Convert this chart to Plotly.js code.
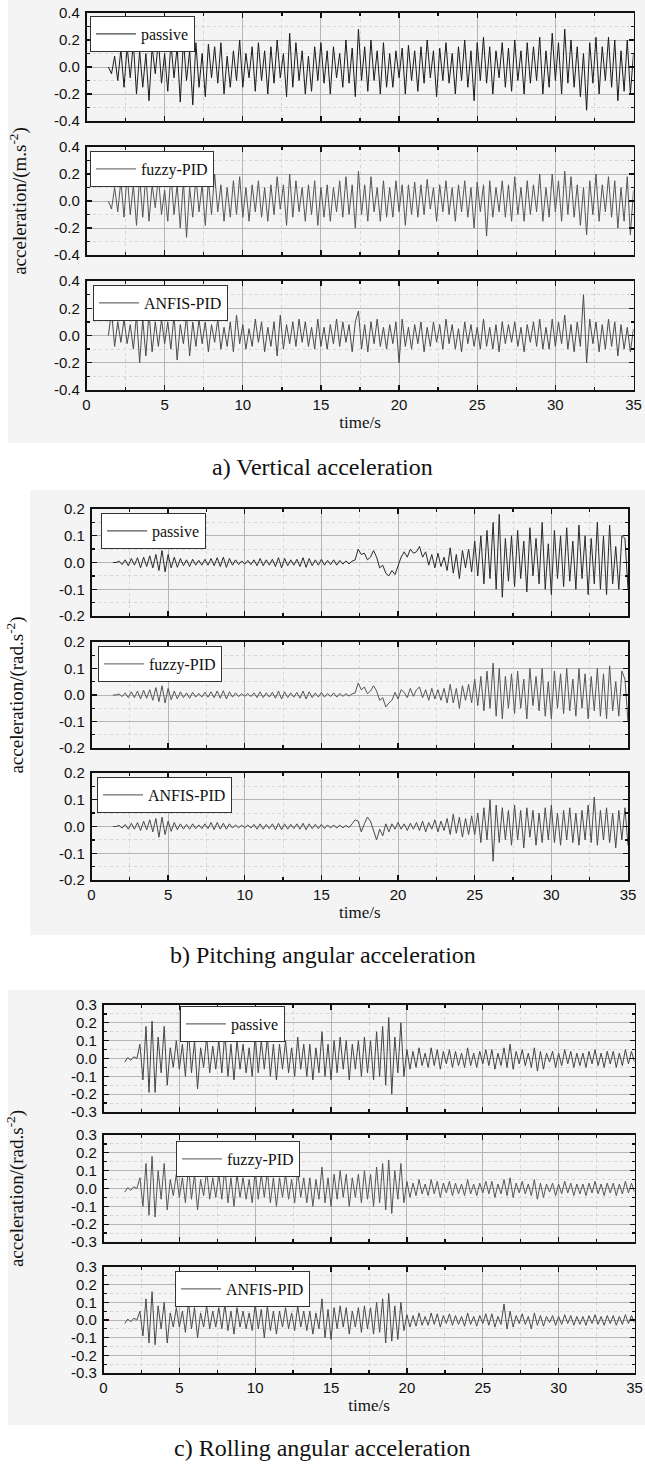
<!DOCTYPE html>
<html>
<head>
<meta charset="utf-8">
<script src="https://cdn.plot.ly/plotly-3.0.1.min.js"></script>
<style>html,body{margin:0;padding:0;background:#fff}#chart{width:645px;height:1465px}</style>
</head>
<body>
<div id="chart"></div>
<script>
// ---------- data ----------
const time = [1.4,1.6,1.8,2.0,2.2,2.4,2.6,2.8,3.0,3.2,
3.4,3.6,3.8,4.0,4.2,4.4,4.6,4.8,5.0,5.2,
5.4,5.6,5.8,6.0,6.2,6.4,6.6,6.8,7.0,7.2,
7.4,7.6,7.8,8.0,8.2,8.4,8.6,8.8,9.0,9.2,
9.4,9.6,9.8,10.0,10.2,10.4,10.6,10.8,11.0,11.2,
11.4,11.6,11.8,12.0,12.2,12.4,12.6,12.8,13.0,13.2,
13.4,13.6,13.8,14.0,14.2,14.4,14.6,14.8,15.0,15.2,
15.4,15.6,15.8,16.0,16.2,16.4,16.6,16.8,17.0,17.2,
17.4,17.6,17.8,18.0,18.2,18.4,18.6,18.8,19.0,19.2,
19.4,19.6,19.8,20.0,20.2,20.4,20.6,20.8,21.0,21.2,
21.4,21.6,21.8,22.0,22.2,22.4,22.6,22.8,23.0,23.2,
23.4,23.6,23.8,24.0,24.2,24.4,24.6,24.8,25.0,25.2,
25.4,25.6,25.8,26.0,26.2,26.4,26.6,26.8,27.0,27.2,
27.4,27.6,27.8,28.0,28.2,28.4,28.6,28.8,29.0,29.2,
29.4,29.6,29.8,30.0,30.2,30.4,30.6,30.8,31.0,31.2,
31.4,31.6,31.8,32.0,32.2,32.4,32.6,32.8,33.0,33.2,
33.4,33.6,33.8,34.0,34.2,34.4,34.6,34.8,35.0];

const seriesNames = ["passive", "fuzzy-PID", "ANFIS-PID"];

// a) vertical acceleration (m/s^2)
const vertPassive = [.0,-.05,.08,-.1,.13,-.15,.15,-.08,.18,-.2,
.12,-.15,.1,-.25,.15,-.05,.2,-.12,.1,-.18,
.18,-.08,.15,-.26,.2,-.1,.12,-.28,.18,-.15,
.1,-.22,.17,-.08,.15,-.12,.18,-.2,.08,-.15,
.12,-.1,.2,-.15,.1,-.08,.15,-.18,.18,-.1,
.12,-.2,.15,-.12,.2,-.08,.1,-.22,.25,-.15,
.18,-.1,.12,-.2,.08,-.18,.15,-.1,.18,-.12,
.12,-.2,.15,-.08,.1,-.15,.2,-.12,.14,-.22,
.28,-.1,.15,-.18,.2,-.1,.12,-.2,.18,-.15,
.1,-.15,.12,-.08,.14,-.2,.16,-.1,.12,-.18,
.15,-.12,.2,-.08,.12,-.22,.14,-.1,.18,-.12,
.1,-.2,.15,-.1,.2,-.15,.12,-.25,.18,-.1,
.22,-.12,.15,-.2,.12,-.08,.18,-.15,.14,-.18,
.2,-.1,.12,-.2,.18,-.12,.15,-.1,.22,-.2,
.12,-.15,.25,-.1,.18,-.2,.28,-.12,.2,-.15,
.15,-.22,.1,-.32,.18,-.12,.22,-.2,.15,-.1,
.22,-.15,.2,-.25,.12,-.18,.2,-.2,.1];
const vertFuzzy = [.0,-.06,.1,-.08,.15,-.12,.2,-.1,.12,-.18,
.18,-.12,.2,-.15,.12,-.05,.18,-.1,.08,-.15,
.2,-.1,.12,-.2,.15,-.27,.1,-.12,.18,-.08,
.12,-.18,.15,-.1,.2,-.08,.12,-.15,.1,-.12,
.15,-.1,.18,-.12,.1,-.15,.12,-.08,.15,-.12,
.1,-.15,.12,-.1,.18,-.06,.12,-.18,.2,-.12,
.15,-.08,.1,-.15,.12,-.1,.15,-.18,.1,-.12,
.12,-.15,.1,-.08,.15,-.12,.18,-.1,.12,-.2,
.22,-.1,.12,-.15,.18,-.08,.1,-.15,.15,-.12,
.1,-.12,.15,-.08,.12,-.18,.12,-.1,.14,-.12,
.12,-.1,.16,-.06,.1,-.15,.12,-.08,.15,-.1,
.1,-.15,.12,-.08,.15,-.12,.1,-.2,.14,-.08,
.12,-.26,.15,-.12,.1,-.08,.15,-.12,.12,-.15,
.18,-.1,.1,-.15,.15,-.1,.12,-.08,.2,-.15,
.1,-.12,.2,-.08,.15,-.15,.22,-.1,.18,-.12,
.12,-.18,.1,-.25,.15,-.1,.2,-.15,.12,-.08,
.18,-.12,.15,-.2,.1,-.15,.18,-.25,.08];
const vertAnfis = [.0,.18,-.08,.1,-.05,.12,-.06,.08,-.1,.15,
-.2,.12,-.15,.17,-.12,.1,-.08,.12,-.06,.1,
-.1,.15,-.18,.08,-.06,.14,-.15,.1,-.08,.12,
-.06,.1,-.12,.08,-.05,.12,-.1,.06,-.08,.1,
-.12,.15,-.06,.08,-.1,.05,-.08,.12,-.05,.1,
-.12,.06,-.08,.1,-.15,.15,-.1,.08,-.06,.1,
-.08,.12,-.05,.1,-.08,.06,-.1,.12,-.08,.06,
-.1,.08,-.06,.12,-.08,.1,-.05,.08,-.12,.1,
.18,-.1,.08,-.12,.1,-.06,.12,-.08,.06,-.1,
.08,-.06,.1,-.2,.12,-.08,.06,-.1,.08,-.06,
.1,-.12,.06,-.08,.1,-.05,.08,-.1,.12,-.06,
.08,-.1,.05,-.12,.1,-.06,.08,-.08,.06,-.1,
.12,-.08,.06,-.1,.08,-.12,.1,-.06,.08,-.05,
.1,-.08,.06,-.12,.08,-.05,.1,-.08,.12,-.1,
.06,-.1,.12,-.08,.1,-.06,.15,-.1,.08,-.12,
.1,-.08,.3,-.2,.12,-.06,.1,-.12,.08,-.1,
.12,-.08,.1,-.15,.08,-.1,.06,-.12,.05];

// b) pitching angular acceleration (rad/s^2)
const pitchPassive = [0,0,.005,-.008,.01,-.012,.015,-.01,.018,-.02,
.02,-.015,.025,-.02,.03,-.03,.045,-.035,.03,-.02,
.02,-.018,.015,-.012,.01,-.015,.012,-.01,.008,-.01,
.012,-.01,.015,-.012,.018,-.015,.02,-.018,.015,-.01,
.01,-.008,.006,-.006,.008,-.008,.01,-.012,.015,-.012,
.01,-.01,.012,-.015,.018,-.02,.015,-.012,.01,-.01,
.012,-.015,.018,-.018,.015,-.012,.01,-.01,.012,-.01,
.008,-.008,.01,-.01,.008,-.006,.006,-.005,.005,.01,
.05,.03,.035,.01,.02,.045,.02,-.02,-.01,-.04,
-.05,-.03,-.045,-.01,.02,.04,.02,.05,.035,.04,
.06,.02,.04,-.01,.03,-.02,.035,-.015,.02,-.03,
.055,-.04,.03,-.06,.045,-.02,.05,-.035,.08,-.05,
.1,-.08,.12,-.06,.15,-.1,.18,-.13,.09,-.07,
.1,-.09,.12,-.06,.08,-.11,.13,-.05,.09,-.08,
.15,-.1,.07,-.12,.12,-.06,.1,-.09,.13,-.07,
.08,-.1,.14,-.06,.1,-.12,.09,-.08,.15,-.1,
.1,-.12,.14,-.08,.06,-.1,.1,.09,-.1];
const pitchFuzzy = [0,0,.004,-.006,.008,-.01,.012,-.01,.015,-.015,
.018,-.012,.02,-.02,.028,-.025,.035,-.03,.025,-.018,
.015,-.015,.012,-.01,.008,-.012,.01,-.008,.006,-.008,
.01,-.008,.012,-.01,.015,-.012,.016,-.015,.012,-.008,
.008,-.006,.005,-.005,.006,-.006,.008,-.01,.012,-.01,
.008,-.008,.01,-.012,.015,-.015,.012,-.01,.008,-.008,
.01,-.012,.015,-.015,.012,-.01,.008,-.008,.01,-.008,
.006,-.006,.008,-.008,.006,-.005,.005,-.004,.004,.008,
.045,.02,.03,.005,.015,.035,.015,-.02,-.01,-.045,
-.03,-.02,.01,-.015,.02,.01,-.01,.025,-.005,.02,
.03,-.01,.02,-.02,.025,-.015,.02,-.02,.025,-.03,
.04,-.03,.025,-.05,.035,-.02,.04,-.03,.06,-.04,
.07,-.06,.09,-.05,.12,-.08,.1,-.09,.07,-.05,
.08,-.07,.09,-.05,.06,-.09,.1,-.04,.07,-.06,
.1,-.08,.05,-.09,.09,-.05,.08,-.07,.1,-.06,
.06,-.08,.1,-.05,.08,-.09,.07,-.06,.1,-.08,
.08,-.09,.11,-.06,.05,-.08,.09,.06,-.1];
const pitchAnfis = [0,0,.004,-.006,.008,-.01,.012,-.01,.015,-.015,
.02,-.012,.025,-.02,.03,-.04,.035,-.03,.02,-.018,
.015,-.012,.01,-.01,.008,-.01,.01,-.008,.006,-.008,
.01,-.008,.015,-.012,.015,-.01,.012,-.01,.01,-.006,
.006,-.005,.005,-.005,.006,-.006,.008,-.01,.01,-.01,
.008,-.008,.01,-.012,.012,-.012,.01,-.01,.008,-.008,
.01,-.01,.012,-.012,.01,-.008,.008,-.008,.008,-.008,
.006,-.006,.006,-.006,.005,-.005,.004,-.004,.01,.025,
.02,-.02,.01,.035,.02,-.02,-.05,-.01,-.035,.01,
-.02,.01,-.01,.015,-.01,.01,-.015,.012,-.01,.015,
-.015,.02,-.02,.015,-.01,.025,-.02,.02,-.015,.03,
-.03,.045,-.025,.035,-.04,.03,-.03,.04,-.03,.05,
-.06,.07,-.05,.1,-.13,.08,-.06,.07,-.05,.06,
-.07,.08,-.05,.06,-.08,.07,-.04,.06,-.07,.05,
-.06,.07,-.05,.08,-.06,.05,-.07,.06,-.05,.07,
-.06,.05,-.07,.06,-.05,.08,-.06,.11,-.07,.06,
-.05,.07,-.06,.05,-.08,.06,-.05,.07,-.07];

// c) rolling angular acceleration (rad/s^2)
const rollPassive = [-.02,.005,-.01,.01,.0,.08,-.12,.18,-.19,.21,
-.19,.12,-.08,.18,-.15,.06,-.05,.1,-.06,.08,
-.1,.16,-.08,.1,-.17,.06,-.05,.12,-.08,.07,
-.06,.1,-.08,.15,-.1,.08,-.12,.1,-.06,.08,
-.08,.06,-.1,.13,-.08,.1,-.06,.12,-.1,.08,
-.12,.08,-.06,.1,-.08,.06,-.1,.12,-.06,.08,
-.1,.08,-.12,.06,-.08,.15,-.1,.08,-.12,.1,
-.08,.12,-.06,.1,-.12,.08,-.06,.1,-.1,.12,
-.08,.1,-.12,.15,-.1,.18,-.15,.23,-.2,.12,
-.08,.2,-.1,.05,-.06,.04,-.05,.06,-.04,.03,
-.05,.06,-.04,.05,-.06,.04,-.03,.05,-.05,.04,
-.04,.03,-.05,.06,-.04,.03,-.05,.04,-.03,.05,
-.04,.05,-.06,.03,-.04,.06,-.05,.08,-.06,.04,
-.03,.05,-.04,.03,-.05,.06,-.07,.04,-.06,.03,
-.02,.04,-.05,.03,-.04,.05,-.03,.04,-.05,.03,
-.04,.03,-.05,.04,-.03,.05,-.04,.03,-.05,.04,
-.03,.04,-.05,.03,-.04,.05,-.03,.04,-.02];
const rollFuzzy = [-.02,.005,-.01,.01,.0,.06,-.1,.14,-.15,.18,
-.16,.1,-.06,.14,-.12,.05,-.04,.08,-.05,.06,
-.08,.12,-.06,.08,-.12,.05,-.04,.1,-.06,.06,
-.05,.08,-.06,.12,-.08,.06,-.1,.08,-.05,.06,
-.06,.05,-.08,.1,-.06,.08,-.05,.1,-.08,.06,
-.1,.06,-.05,.08,-.06,.05,-.08,.1,-.05,.06,
-.08,.06,-.1,.05,-.06,.12,-.08,.06,-.1,.08,
-.06,.1,-.05,.08,-.1,.06,-.05,.08,-.08,.1,
-.06,.08,-.1,.12,-.08,.14,-.12,.16,-.14,.1,
-.06,.14,-.08,.04,-.05,.03,-.04,.05,-.03,.025,
-.04,.05,-.03,.04,-.05,.03,-.025,.04,-.04,.03,
-.03,.025,-.04,.05,-.03,.025,-.04,.03,-.025,.04,
-.03,.04,-.05,.025,-.03,.05,-.04,.06,-.05,.03,
-.025,.04,-.03,.025,-.04,.05,-.06,.03,-.05,.025,
-.02,.03,-.04,.025,-.03,.04,-.025,.03,-.04,.025,
-.03,.025,-.04,.03,-.025,.04,-.03,.025,-.04,.03,
-.025,.03,-.04,.025,-.03,.04,-.025,.03,-.02];
const rollAnfis = [-.02,.005,-.01,.01,.0,.05,-.09,.12,-.13,.16,
-.14,.08,-.05,.1,-.13,.04,-.04,.07,-.04,.05,
-.07,.1,-.05,.07,-.1,.04,-.04,.08,-.05,.05,
-.04,.07,-.05,.09,-.06,.05,-.08,.07,-.04,.05,
-.05,.04,-.06,.09,-.05,.06,-.1,.08,-.06,.05,
-.08,.05,-.04,.07,-.05,.04,-.06,.08,-.04,.05,
-.06,.05,-.08,.04,-.05,.12,-.1,.06,-.11,.07,
-.05,.08,-.04,.07,-.08,.05,-.04,.07,-.07,.08,
-.05,.07,-.08,.1,-.07,.12,-.13,.15,-.12,.08,
-.11,.1,-.06,.03,-.04,.025,-.035,.04,-.03,.02,
-.03,.04,-.025,.035,-.04,.025,-.02,.035,-.03,.025,
-.025,.02,-.035,.04,-.025,.02,-.035,.025,-.02,.035,
-.03,.035,-.04,.02,-.025,.09,-.05,.05,-.04,.025,
-.02,.035,-.025,.02,-.05,.04,-.03,.025,-.035,.02,
-.015,.025,-.03,.02,-.025,.03,-.02,.025,-.03,.02,
-.025,.02,-.03,.025,-.02,.03,-.025,.02,-.03,.025,
-.02,.025,-.03,.02,-.025,.03,-.02,.025,-.015];

const captions = ["a) Vertical acceleration", "b) Pitching angular acceleration", "c) Rolling angular acceleration"];
const yTitles = ["acceleration/(m.s<sup>-2</sup>)", "acceleration/(rad.s<sup>-2</sup>)", "acceleration/(rad.s<sup>-2</sup>)"];
const xTitle = "time/s";
const xTickVals = [0,5,10,15,20,25,30,35];
const yTickVals = [[-0.4,-0.2,0,0.2,0.4],[-0.2,-0.1,0,0.1,0.2],[-0.3,-0.2,-0.1,0,0.1,0.2,0.3]];
const yTickText = [["-0.4","-0.2","0.0","0.2","0.4"],["-0.2","-0.1","0.0","0.1","0.2"],["-0.3","-0.2","-0.1","0.0","0.1","0.2","0.3"]];
const yRanges = [[-0.4,0.4],[-0.2,0.2],[-0.3,0.3]];
const yMinor = [0.1, 0.05, 0.05];

const panelData = [[vertPassive, vertFuzzy, vertAnfis],[pitchPassive, pitchFuzzy, pitchAnfis],[rollPassive, rollFuzzy, rollAnfis]];

// ---------- layout geometry (pixels) ----------
const W = 645, H = 1465;
const xSpan = [[86.5,633.5],[91.5,628],[103.5,634.5]];
const rowSpan = [
  [[13,121],[147,255],[281,390]],
  [[509,616],[642,748],[773,880]],
  [[1005,1112],[1135,1242],[1267,1373]]
];
const legendPos = [
  [[90,16],[90,151],[93,285]],
  [[101,513],[98,646],[97,777]],
  [[180,1006],[176,1141],[175,1271]]
];
const captionY = [467, 955, 1448];
const titleStandoff = [22, 30, 42];
const lineColors = [["#1a1a1a","#555555","#4a4a4a"],["#2a2a2a","#555555","#4a4a4a"],["#444444","#555555","#4a4a4a"]];
const bgRegions = [[8,0,645,443],[30,490,645,935],[8,990,645,1425]];

const px = v => v / W;
const py = v => 1 - v / H;

const serif = "Liberation Serif, Times New Roman, serif";
const sans = "Liberation Sans, Arial, sans-serif";

const traces = [];
const layout = {
  width: W, height: H,
  margin: {l:0, r:0, t:0, b:0},
  paper_bgcolor: "#ffffff",
  plot_bgcolor: "rgba(0,0,0,0)",
  showlegend: true,
  annotations: [],
  shapes: []
};

bgRegions.forEach(r => {
  layout.shapes.push({type:"rect", xref:"paper", yref:"paper", x0:px(r[0]), x1:px(r[2]), y0:py(r[3]), y1:py(r[1]),
    fillcolor:"#f4f4f4", line:{width:0}, layer:"below"});
});

for (let p = 0; p < 3; p++) {
  for (let r = 0; r < 3; r++) {
    const i = p*3 + r + 1;
    const sfx = i === 1 ? "" : String(i);
    const xa = "xaxis" + sfx, ya = "yaxis" + sfx, lg = "legend" + sfx;
    traces.push({
      type: "scatter", mode: "lines",
      x: time, y: panelData[p][r],
      name: seriesNames[r],
      xaxis: "x" + sfx, yaxis: "y" + sfx,
      legend: lg,
      line: {color: lineColors[p][r], width: 1},
      hoverinfo: "skip"
    });
    const isBottom = r === 2;
    layout[xa] = {
      domain: [px(xSpan[p][0]), px(xSpan[p][1])],
      anchor: "y" + sfx,
      range: [0, 35],
      tickmode: "array", tickvals: xTickVals,
      showticklabels: isBottom,
      ticks: "inside", ticklen: 5, tickwidth: 1.3, tickcolor: "#111",
      minor: {dtick: 2.5, ticks: "inside", ticklen: 3, tickcolor: "#111", showgrid: true, gridcolor: "#d6d6d6", griddash: "dot", gridwidth: 1},
      showgrid: true, gridcolor: "#b5b5b5", gridwidth: 1,
      showline: true, linecolor: "#111", linewidth: 1.6, mirror: "allticks",
      zeroline: false,
      tickfont: {family: sans, size: 15, color: "#111"},
      fixedrange: true
    };
    if (isBottom) {
      layout[xa].title = {text: xTitle, font: {family: serif, size: 17, color: "#111"}, standoff: 4};
    }
    layout[ya] = {
      domain: [py(rowSpan[p][r][1]), py(rowSpan[p][r][0])],
      anchor: "x" + sfx,
      range: yRanges[p],
      tickmode: "array", tickvals: yTickVals[p], ticktext: yTickText[p],
      ticks: "inside", ticklen: 5, tickwidth: 1.3, tickcolor: "#111",
      minor: {dtick: yMinor[p], ticks: "inside", ticklen: 3, tickcolor: "#111", showgrid: true, gridcolor: "#d6d6d6", griddash: "dot", gridwidth: 1},
      showgrid: true, gridcolor: "#b5b5b5", gridwidth: 1,
      showline: true, linecolor: "#111", linewidth: 1.6, mirror: "allticks",
      zeroline: false,
      tickfont: {family: sans, size: 15, color: "#111"},
      ticklabelstandoff: 2,
      fixedrange: true
    };
    if (r === 1) {
      layout[ya].title = {text: yTitles[p], font: {family: serif, size: 19, color: "#111"}, standoff: titleStandoff[p]};
    }
    layout[lg] = {
      x: px(legendPos[p][r][0]), y: py(legendPos[p][r][1]),
      xref: "paper", yref: "paper",
      xanchor: "left", yanchor: "top",
      bgcolor: "#ffffff", bordercolor: "#333", borderwidth: 1,
      font: {family: serif, size: 16, color: "#111"},
      itemwidth: 40, tracegroupgap: 0,
      itemclick: false, itemdoubleclick: false
    };
  }
}

captions.forEach((c, p) => {
  layout.annotations.push({
    text: c, xref: "paper", yref: "paper", x: 0.5, y: py(captionY[p]),
    xanchor: "center", yanchor: "middle", showarrow: false,
    font: {family: serif, size: 24, color: "#111"}
  });
});

Plotly.newPlot("chart", traces, layout, {staticPlot: true, displayModeBar: false});
</script>
</body>
</html>
